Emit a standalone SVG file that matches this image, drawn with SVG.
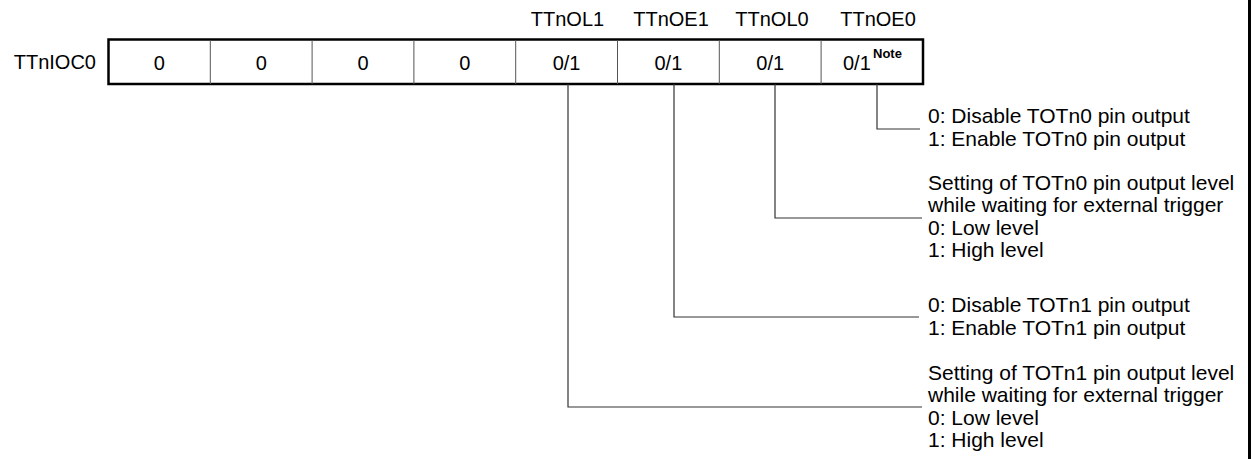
<svg xmlns="http://www.w3.org/2000/svg" width="1255" height="459" viewBox="0 0 1255 459">
<style>
  text { font-family: "Liberation Sans", Arial, sans-serif; font-size: 20px; fill: #000; }
  .c { text-anchor: middle; }
  .d { font-size: 21px; }
  .note { font-size: 13px; font-weight: bold; }
  .outer { fill: #fff; stroke: #000; stroke-width: 2.5; }
  .div { stroke: #555; stroke-width: 1; }
  .conn { fill: none; stroke: #333; stroke-width: 1.2; }
</style>
<rect x="1248" y="0" width="3" height="459" fill="#000"/>
<g id="register">
  <text x="96" y="69" text-anchor="end">TTnIOC0</text>
  <rect class="outer" x="108.5" y="39.5" width="814.5" height="44.5"/>
  <line class="div" x1="210.3" y1="40" x2="210.3" y2="84"/>
  <line class="div" x1="312.1" y1="40" x2="312.1" y2="84"/>
  <line class="div" x1="413.9" y1="40" x2="413.9" y2="84"/>
  <line class="div" x1="515.7" y1="40" x2="515.7" y2="84"/>
  <line class="div" x1="617.5" y1="40" x2="617.5" y2="84"/>
  <line class="div" x1="719.3" y1="40" x2="719.3" y2="84"/>
  <line class="div" x1="821.1" y1="40" x2="821.1" y2="84"/>
  <text class="c" x="159.4" y="69.5">0</text>
  <text class="c" x="261.2" y="69.5">0</text>
  <text class="c" x="363" y="69.5">0</text>
  <text class="c" x="464.8" y="69.5">0</text>
  <text class="c" x="566.6" y="69.5">0/1</text>
  <text class="c" x="668.4" y="69.5">0/1</text>
  <text class="c" x="770.2" y="69.5">0/1</text>
  <text x="843" y="69.5">0/1</text>
  <text class="note" x="873" y="58">Note</text>
</g>
<g id="bit-labels">
  <text class="c" x="567.5" y="26">TTnOL1</text>
  <text class="c" x="671" y="26">TTnOE1</text>
  <text class="c" x="772" y="26">TTnOL0</text>
  <text class="c" x="878" y="26">TTnOE0</text>
</g>
<g id="connectors">
  <polyline class="conn" points="877,84 877,129 920,129"/>
  <polyline class="conn" points="775,84 775,218 922,218"/>
  <polyline class="conn" points="674,84 674,317 919,317"/>
  <polyline class="conn" points="568,84 568,407 922,407"/>
</g>
<g id="desc-oe0">
  <text class="d" x="928" y="123">0: Disable TOTn0 pin output</text>
  <text class="d" x="928" y="146">1: Enable TOTn0 pin output</text>
</g>
<g id="desc-ol0">
  <text class="d" x="928" y="190">Setting of TOTn0 pin output level</text>
  <text class="d" x="928" y="212">while waiting for external trigger</text>
  <text class="d" x="928" y="235">0: Low level</text>
  <text class="d" x="928" y="257">1: High level</text>
</g>
<g id="desc-oe1">
  <text class="d" x="928" y="312">0: Disable TOTn1 pin output</text>
  <text class="d" x="928" y="335">1: Enable TOTn1 pin output</text>
</g>
<g id="desc-ol1">
  <text class="d" x="928" y="380">Setting of TOTn1 pin output level</text>
  <text class="d" x="928" y="402">while waiting for external trigger</text>
  <text class="d" x="928" y="425">0: Low level</text>
  <text class="d" x="928" y="447">1: High level</text>
</g>
</svg>
